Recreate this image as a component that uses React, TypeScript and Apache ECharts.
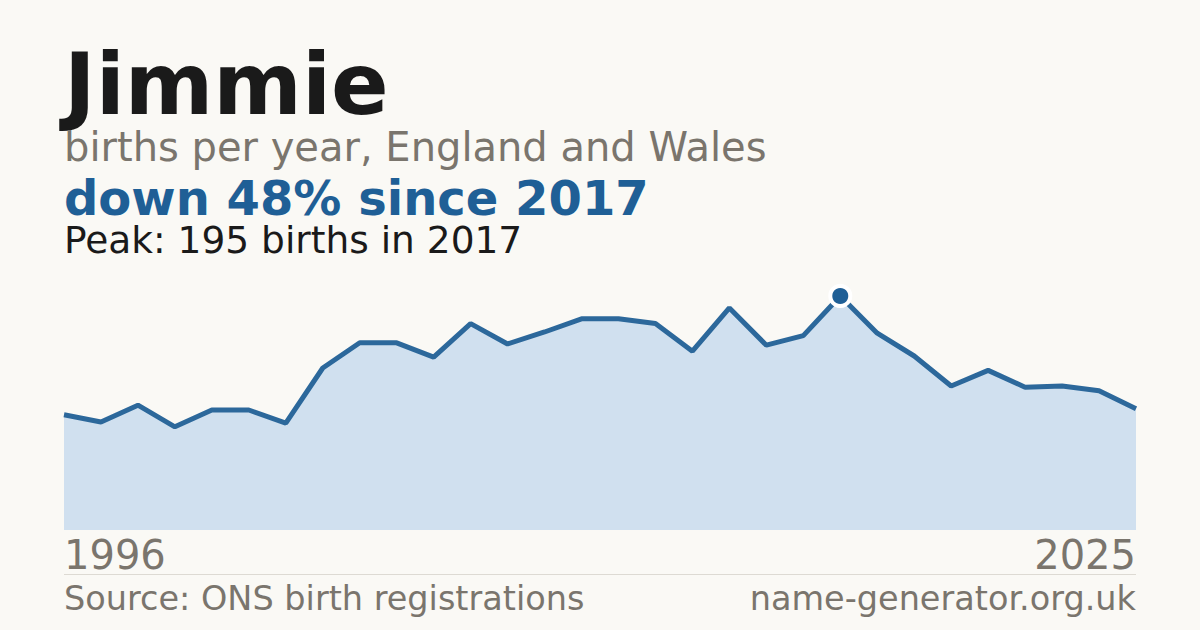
import React, { useEffect, useRef } from "react";
import * as echarts from "echarts";

// births per year for "Jimmie"
const years = [
  "1996", "1997", "1998", "1999", "2000", "2001", "2002", "2003", "2004", "2005",
  "2006", "2007", "2008", "2009", "2010", "2011", "2012", "2013", "2014", "2015",
  "2016", "2017", "2018", "2019", "2020", "2021", "2022", "2023", "2024", "2025",
];
const births = [
  96, 90, 104, 86, 100, 100, 89, 135, 156, 156,
  144, 172, 155, 165, 176, 176, 172, 149, 185, 154,
  162, 195, 164, 145, 120, 133, 119, 120, 116, 101,
];

const FONT = "DejaVu Sans";
const GREY = "#7a756d";
const BLUE = "#1f5f96";
const INK = "#1a1a1a";

const App: React.FC = () => {
  const chartRef = useRef<HTMLDivElement>(null);

  useEffect(() => {
    if (!chartRef.current) return;
    const chart = echarts.init(chartRef.current, null, { renderer: "svg" });

    const peak = Math.max(...births);
    const peakIdx = births.indexOf(peak);
    const last = births[births.length - 1];
    const drop = Math.round((1 - last / peak) * 100);

    // left/right aligned text, y is the text's middle
    const txt = (
      text: string,
      x: number,
      y: number,
      size: number,
      color: string,
      weight: string = "normal",
      align: string = "left"
    ) => ({
      type: "text",
      x,
      y,
      style: {
        text,
        fill: color,
        font: `${weight} ${size}px "${FONT}"`,
        lineHeight: Math.round(size * 0.8),
        align,
        verticalAlign: "middle",
      },
    });

    chart.setOption({
      animation: false,
      backgroundColor: "#faf9f5",
      grid: { left: 64, right: 64, top: 280, bottom: 100 },
      xAxis: {
        type: "category",
        data: years,
        boundaryGap: false,
        show: false,
      },
      yAxis: {
        type: "value",
        min: 0,
        max: 208.33,
        show: false,
      },
      series: [
        {
          type: "line",
          data: births,
          symbol: "none",
          lineStyle: { color: "#2c689b", width: 5 },
          areaStyle: { color: "#d0e0ef", opacity: 1 },
          z: 2,
        },
        {
          // peak marker
          type: "scatter",
          data: [[peakIdx, peak]],
          symbol: "circle",
          symbolSize: 20,
          itemStyle: {
            color: BLUE,
            borderColor: "#ffffff",
            borderWidth: 4,
            opacity: 1,
          },
          z: 3,
        },
      ],
      graphic: [
        txt("Jimmie", 64, 84, 85, INK, "bold"),
        txt("births per year, England and Wales", 64, 147, 40, GREY),
        txt(`down ${drop}% since ${years[peakIdx]}`, 64, 198, 48, BLUE, "bold"),
        txt(`Peak: ${peak} births in ${years[peakIdx]}`, 64, 240, 37.5, INK),
        txt(years[0], 64, 555, 40, GREY),
        txt(years[years.length - 1], 1136, 555, 40, GREY, "normal", "right"),
        {
          type: "line",
          shape: { x1: 64, y1: 574.5, x2: 1136, y2: 574.5 },
          style: { stroke: "#dddad3", lineWidth: 1 },
        },
        txt("Source: ONS birth registrations", 64, 598.5, 33.5, GREY),
        txt("name-generator.org.uk", 1136, 598.5, 33.5, GREY, "normal", "right"),
      ],
    });

    return () => chart.dispose();
  }, []);

  return (
    <div
      ref={chartRef}
      style={{ position: "fixed", left: 0, top: 0, width: "1200px", height: "630px" }}
    />
  );
};

export default App;
